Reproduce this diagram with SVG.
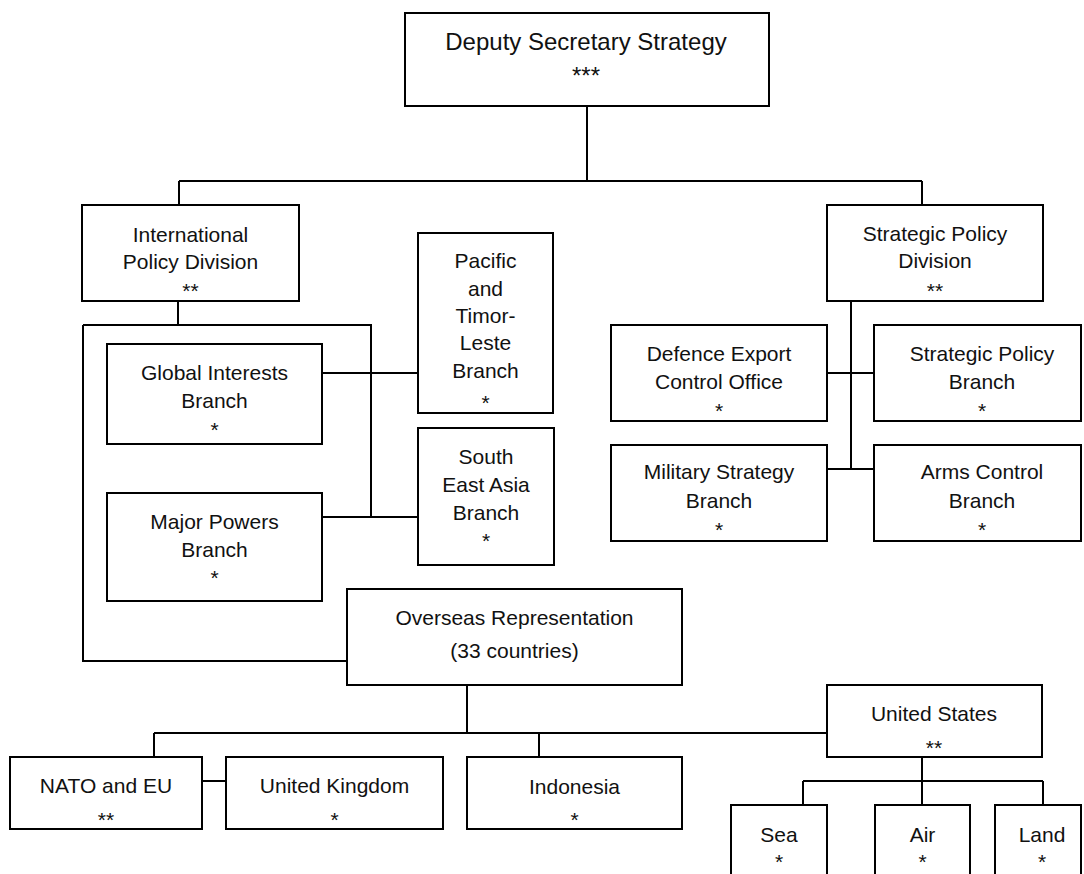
<svg xmlns="http://www.w3.org/2000/svg" width="1084" height="874" viewBox="0 0 1084 874">
  <style>
    .box { fill: #fff; stroke: #000; stroke-width: 2; }
    .wire { fill: none; stroke: #000; stroke-width: 2; }
    text { font-family: "Liberation Sans", Arial, sans-serif; font-size: 21px; fill: #111; text-anchor: middle; }
    .big { font-size: 24px; }
  </style>
  <rect width="1084" height="874" fill="#fff"/>

  <!-- connectors -->
  <g id="connectors" class="wire">
    <path d="M587 106 V181 M179 181 H922 M179 181 V205 M922 181 V205"/>
    <!-- International Policy Division frame -->
    <path d="M178 301 V325 M83 325 H371 V517 M83 325 V661 H347"/>
    <path d="M322 373 H418 M322 517 H418"/>
    <!-- Strategic Policy Division -->
    <path d="M851 301 V469 M827 373 H874 M827 469 H874"/>
    <!-- Overseas Representation -->
    <path d="M467 685 V733 M154 733 H827 M154 733 V757 M539 733 V757 M202 781 H226"/>
    <!-- United States -->
    <path d="M922 757 V781 M803 781 H1043 M803 781 V805 M922 781 V805 M1043 781 V805"/>
  </g>

  <g id="deputy-secretary">
    <rect class="box" x="405" y="13" width="364" height="93"/>
    <text class="big" x="586" y="50">Deputy Secretary Strategy</text>
    <text class="big" x="586" y="84">***</text>
  </g>

  <g id="international-policy">
    <rect class="box" x="82" y="205" width="217" height="96"/>
    <text x="190.5" y="242">International</text>
    <text x="190.5" y="269">Policy Division</text>
    <text x="190.5" y="298">**</text>
  </g>

  <g id="global-interests">
    <rect class="box" x="107" y="344" width="215" height="100"/>
    <text x="214.5" y="380">Global Interests</text>
    <text x="214.5" y="408">Branch</text>
    <text x="214.5" y="437">*</text>
  </g>

  <g id="major-powers">
    <rect class="box" x="107" y="493" width="215" height="108"/>
    <text x="214.5" y="529">Major Powers</text>
    <text x="214.5" y="557">Branch</text>
    <text x="214.5" y="585">*</text>
  </g>

  <g id="pacific-timor-leste">
    <rect class="box" x="418" y="233" width="135" height="180"/>
    <text x="485.5" y="268">Pacific</text>
    <text x="485.5" y="296">and</text>
    <text x="485.5" y="323">Timor-</text>
    <text x="485.5" y="350">Leste</text>
    <text x="485.5" y="378">Branch</text>
    <text x="485.5" y="410">*</text>
  </g>

  <g id="south-east-asia">
    <rect class="box" x="418" y="428" width="136" height="137"/>
    <text x="486" y="464">South</text>
    <text x="486" y="492">East Asia</text>
    <text x="486" y="520">Branch</text>
    <text x="486" y="548">*</text>
  </g>

  <g id="strategic-policy-division">
    <rect class="box" x="827" y="205" width="216" height="96"/>
    <text x="935" y="241">Strategic Policy</text>
    <text x="935" y="268">Division</text>
    <text x="935" y="298">**</text>
  </g>

  <g id="defence-export-control">
    <rect class="box" x="611" y="325" width="216" height="96"/>
    <text x="719" y="361">Defence Export</text>
    <text x="719" y="389">Control Office</text>
    <text x="719" y="418">*</text>
  </g>

  <g id="strategic-policy-branch">
    <rect class="box" x="874" y="325" width="207" height="96"/>
    <text x="982" y="361">Strategic Policy</text>
    <text x="982" y="389">Branch</text>
    <text x="982" y="418">*</text>
  </g>

  <g id="military-strategy">
    <rect class="box" x="611" y="445" width="216" height="96"/>
    <text x="719" y="479">Military Strategy</text>
    <text x="719" y="508">Branch</text>
    <text x="719" y="537">*</text>
  </g>

  <g id="arms-control">
    <rect class="box" x="874" y="445" width="207" height="96"/>
    <text x="982" y="479">Arms Control</text>
    <text x="982" y="508">Branch</text>
    <text x="982" y="537">*</text>
  </g>

  <g id="overseas-representation">
    <rect class="box" x="347" y="589" width="335" height="96"/>
    <text x="514.5" y="625">Overseas Representation</text>
    <text x="514.5" y="658">(33 countries)</text>
  </g>

  <g id="nato-eu">
    <rect class="box" x="10" y="757" width="192" height="72"/>
    <text x="106" y="793">NATO and EU</text>
    <text x="106" y="827">**</text>
  </g>

  <g id="united-kingdom">
    <rect class="box" x="226" y="757" width="217" height="72"/>
    <text x="334.5" y="793">United Kingdom</text>
    <text x="334.5" y="827">*</text>
  </g>

  <g id="indonesia">
    <rect class="box" x="467" y="757" width="215" height="72"/>
    <text x="574.5" y="794">Indonesia</text>
    <text x="574.5" y="827">*</text>
  </g>

  <g id="united-states">
    <rect class="box" x="827" y="685" width="215" height="72"/>
    <text x="934" y="721">United States</text>
    <text x="934" y="755">**</text>
  </g>

  <g id="sea">
    <rect class="box" x="731" y="805" width="96" height="80"/>
    <text x="779" y="842">Sea</text>
    <text x="779" y="869">*</text>
  </g>

  <g id="air">
    <rect class="box" x="875" y="805" width="95" height="80"/>
    <text x="922.5" y="842">Air</text>
    <text x="922.5" y="869">*</text>
  </g>

  <g id="land">
    <rect class="box" x="995" y="805" width="86" height="80"/>
    <text x="1042" y="842">Land</text>
    <text x="1042" y="869">*</text>
  </g>
</svg>
